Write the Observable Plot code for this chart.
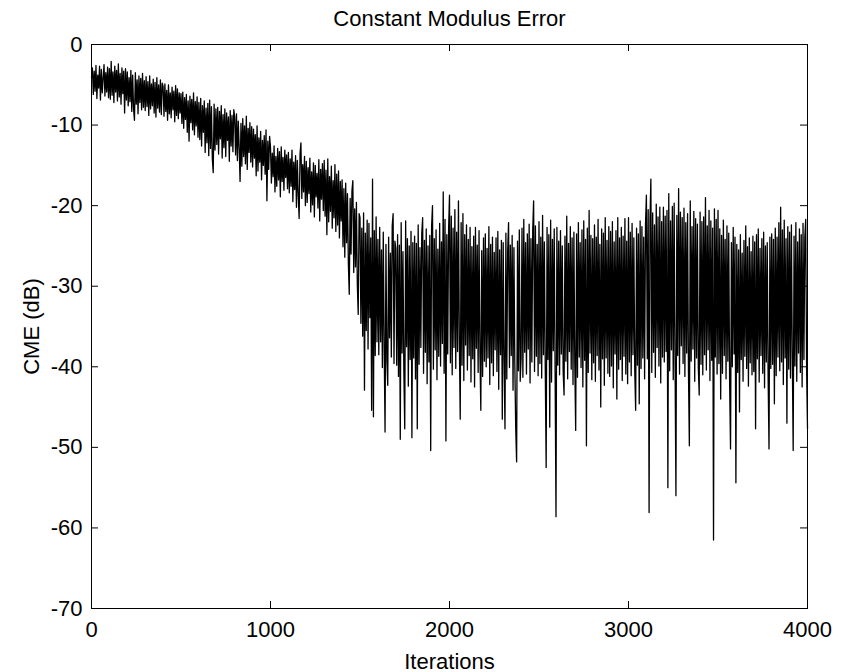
<!DOCTYPE html>
<html><head><meta charset="utf-8">
<script src="https://cdn.jsdelivr.net/npm/d3@7"></script>
<script src="https://cdn.jsdelivr.net/npm/@observablehq/plot@0.6"></script>
<style>body{margin:0;background:#fff}</style>
</head><body><div id="chart"></div>
<script>
const title = "Constant Modulus Error";
const xLabel = "Iterations";
const yLabel = "CME (dB)";
const xTicks = [0, 1000, 2000, 3000, 4000];
const yTicks = [0, -10, -20, -30, -40, -50, -60, -70];
const step = 5; // iterations between samples
const cme = [
-4.1,-2.9,-6.2,-3.3,-5.8,-2.6,-6.7,-3.8,-5.4,-2.7,-6.9,-3.1,-6.0,-4.2,-2.5,-6.4,-3.5,-5.9,-2.8,-6.6,
-3.0,-6.8,-2.1,-6.3,-3.4,-7.2,-2.7,-5.9,-3.2,-7.0,-2.4,-6.5,-3.6,-7.4,-2.9,-6.1,-3.3,-8.5,-3.0,-6.9,
-3.4,-7.6,-4.1,-7.1,-3.2,-8.3,-3.8,-8.0,-9.4,-3.5,-7.4,-4.4,-8.6,-3.9,-7.2,-4.2,-8.1,-3.6,-7.8,-4.5,
-8.2,-4.0,-7.7,-4.6,-8.8,-3.9,-8.0,-4.9,-7.6,-4.3,-8.5,-4.7,-9.0,-4.1,-7.9,-5.0,-8.4,-4.4,-8.7,-4.8,
-5.2,-8.9,-4.9,-8.3,-5.7,-9.4,-5.0,-8.6,-6.0,-9.1,-5.3,-8.1,-5.8,-9.6,-5.1,-8.8,-5.5,-9.2,-6.0,-8.5,
-6.1,-9.8,-5.9,-10.4,-6.6,-9.3,-6.2,-10.9,-7.0,-12.0,-6.4,-9.7,-6.8,-10.6,-6.0,-11.2,-7.1,-10.1,-6.5,-11.5,
-7.2,-11.8,-6.7,-12.6,-7.6,-10.9,-7.0,-13.4,-7.9,-12.2,-7.3,-13.8,-6.9,-12.9,-7.7,-14.2,-15.9,-7.4,-13.1,-8.0,
-12.4,-7.8,-13.6,-8.3,-11.7,-7.6,-14.1,-8.7,-12.8,-8.0,-13.9,-8.5,-11.9,-9.0,-14.5,-8.2,-12.6,-8.8,-13.3,-8.1,
-9.0,-13.7,-8.6,-14.4,-9.5,-12.8,-17.0,-9.8,-15.1,-9.2,-13.9,-10.1,-14.8,-8.9,-15.5,-10.4,-13.4,-9.7,-14.6,-10.2,
-15.2,-10.5,-14.1,-11.2,-16.3,-10.1,-15.7,-11.6,-14.6,-10.8,-16.8,-11.9,-15.0,-11.3,-16.1,-10.6,-19.4,-12.0,-15.5,-11.4,
-12.8,-17.2,-13.5,-16.4,-12.6,-18.3,-13.9,-17.6,-12.9,-16.8,-13.3,-18.9,-12.7,-17.0,-14.0,-18.1,-13.1,-16.5,-13.7,-17.9,
-13.4,-18.4,-14.2,-17.6,-13.1,-19.5,-14.6,-18.0,-13.8,-20.2,-14.4,-18.7,-21.6,-13.6,-12.2,-19.1,-14.9,-18.3,-13.9,-20.0,
-14.5,-19.6,-15.3,-18.5,-14.1,-20.8,-15.8,-19.9,-14.7,-21.4,-15.0,-18.9,-16.0,-20.3,-14.3,-21.9,-15.5,-19.2,-14.8,-20.6,
-14.4,-21.3,-15.6,-23.6,-14.2,-22.0,-16.4,-20.7,-15.1,-22.8,-16.9,-21.5,-14.9,-23.2,-16.1,-22.4,-15.7,-24.0,-17.0,-21.9,
-16.8,-25.1,-17.9,-26.4,-17.2,-24.6,-18.5,-27.2,-31.0,-19.1,-26.0,-18.2,-16.9,-28.3,-20.4,-27.6,-19.6,-29.8,-33.5,-21.0,
-21.5,-34.6,-22.8,-36.2,-20.9,-42.9,-23.4,-35.5,-21.8,-37.8,-22.2,-33.9,-24.0,-45.4,-16.7,-46.2,-23.1,-38.6,-21.4,-36.9,
-24.2,-38.5,-22.7,-36.9,-25.5,-40.1,-23.3,-37.4,-48.1,-24.8,-39.2,-42.3,-23.9,-36.4,-25.9,-38.8,-22.5,-21.0,-39.6,-24.4,
-25.3,-39.8,-23.6,-41.2,-24.9,-49.0,-22.1,-38.3,-25.7,-40.6,-47.7,-21.9,-37.5,-24.1,-42.4,-25.0,-39.1,-23.2,-48.8,-24.6,
-38.9,-23.8,-41.5,-24.7,-47.7,-22.4,-39.7,-25.2,-37.6,-23.5,-21.5,-40.8,-24.3,-38.2,-22.9,-42.1,-25.0,-39.4,-23.7,-50.4,
-22.6,-20.0,-40.3,-24.1,-37.9,-23.0,-41.6,-25.4,-38.7,-22.2,-39.9,-24.5,-37.1,-18.3,-40.8,-21.7,-49.2,-23.6,-38.4,-22.9,
-18.7,-39.5,-21.3,-41.0,-22.8,-37.6,-20.5,-40.2,-23.3,-38.1,-19.4,-36.8,-46.5,-22.1,-39.8,-21.0,-41.7,-23.6,-37.3,-22.4,
-40.4,-24.2,-38.6,-22.7,-41.9,-25.1,-39.0,-23.8,-42.5,-22.7,-37.7,-24.9,-40.7,-23.1,-38.3,-45.4,-25.6,-41.2,-24.0,-39.3,
-23.5,-40.0,-25.3,-38.9,-22.6,-42.2,-24.8,-39.5,-23.9,-41.1,-25.8,-37.9,-24.0,-40.6,-23.2,-42.8,-25.5,-38.5,-24.3,-46.5,
-24.6,-39.2,-47.7,-23.4,-41.5,-25.7,-22.1,-40.1,-24.9,-38.6,-23.7,-42.9,-25.2,-39.8,-47.7,-51.8,-24.4,-40.5,-23.0,-41.8,
-39.0,-22.8,-41.3,-21.7,-38.2,-24.6,-40.9,-23.5,-37.8,-22.3,-42.0,-24.1,-39.4,-23.0,-19.4,-40.6,-22.5,-38.7,-24.8,-41.1,
-22.0,-39.6,-23.9,-41.4,-21.2,-38.5,-24.5,-40.2,-52.5,-22.7,-39.1,-23.6,-47.5,-21.8,-41.9,-24.2,-38.0,-22.9,-40.7,-58.6,
-22.7,-39.8,-24.4,-41.0,-23.1,-38.4,-25.0,-40.6,-43.5,-23.8,-39.3,-21.3,-41.5,-24.7,-38.1,-22.6,-40.3,-24.0,-42.2,-23.3,
-39.7,-47.9,-23.5,-41.3,-22.1,-38.8,-24.6,-40.1,-23.0,-42.5,-21.9,-39.2,-24.2,-49.8,-22.8,-40.7,-20.6,-38.3,-23.7,-41.6,
-24.1,-39.5,-22.4,-41.8,-23.9,-38.6,-21.7,-40.4,-24.8,-45.0,-22.9,-39.0,-23.4,-42.3,-21.5,-38.9,-24.3,-40.8,-22.6,-41.2,
-23.2,-39.9,-22.0,-42.6,-24.5,-38.4,-23.1,-44.0,-21.5,-40.3,-24.0,-39.1,-22.7,-41.7,-23.8,-38.7,-21.6,-40.9,-24.4,-42.1,
-21.5,-39.4,-23.3,-41.1,-22.2,-38.5,-24.0,-40.6,-45.4,-22.8,-39.8,-23.5,-44.6,-21.9,-40.2,-22.6,-38.9,-23.9,-41.5,-22.3,
-18.7,-39.0,-20.5,-58.1,-21.8,-16.7,-40.7,-20.9,-38.2,-22.4,-41.3,-19.8,-37.6,-21.4,-39.9,-20.2,-42.0,-22.0,-38.8,-20.2,
-39.4,-21.3,-38.1,-20.6,-55.0,-18.5,-40.5,-21.9,-37.9,-20.1,-41.6,-19.7,-39.0,-56.0,-21.2,-38.6,-17.9,-40.9,-20.8,-37.4,
-21.5,-39.6,-20.3,-41.2,-22.1,-38.3,-21.0,-40.7,-49.8,-19.4,-39.3,-22.6,-37.8,-20.7,-41.8,-21.6,-38.9,-22.3,-40.1,-43.5,
-20.8,-39.7,-22.0,-41.0,-21.4,-38.5,-19.0,-40.4,-22.5,-37.9,-20.6,-41.7,-21.9,-39.2,-22.8,-61.5,-20.4,-38.8,-21.7,-40.9,
-20.6,-39.6,-22.9,-44.0,-23.7,-40.8,-21.8,-38.6,-24.2,-41.5,-22.5,-39.3,-23.4,-42.1,-50.2,-24.6,-40.0,-22.7,-38.4,-23.9,
-54.4,-24.8,-40.7,-25.5,-45.6,-23.6,-39.1,-25.9,-41.8,-24.3,-38.7,-22.5,-40.2,-25.1,-42.4,-24.0,-39.5,-25.7,-41.0,-23.8,
-40.6,-24.5,-47.7,-23.6,-39.0,-22.9,-41.9,-25.3,-38.6,-24.1,-40.8,-23.3,-42.6,-25.0,-39.4,-24.6,-41.3,-50.2,-23.9,-40.2,
-23.5,-39.7,-24.2,-44.6,-22.8,-41.1,-23.9,-38.8,-22.1,-40.5,-20.2,-39.4,-23.0,-42.2,-21.8,-38.9,-24.1,-47.0,-22.6,-40.3,
-23.3,-41.4,-22.4,-38.6,-50.4,-23.8,-39.9,-22.1,-41.8,-24.5,-38.3,-22.9,-40.7,-23.6,-42.5,-22.2,-39.1,-24.0,-21.7,-40.4,
-47.7
];

const data = cme.map((v, i) => ({iter: i * step, cme: v}));

const W = 850, H = 672, mt = 44, mb = 64, ml = 91, mr = 43;
const iw = W - ml - mr, ih = H - mt - mb;
const tk = 7;
const font = "'Liberation Sans', Arial, Helvetica, sans-serif";

const chart = Plot.plot({
  width: W, height: H,
  marginTop: mt, marginBottom: mb, marginLeft: ml, marginRight: mr,
  style: {fontFamily: font, fontSize: "22px", background: "white", color: "black", overflow: "visible"},
  x: {domain: [0, 4000], ticks: xTicks, label: xLabel},
  y: {domain: [-70, 0], ticks: yTicks, label: yLabel},
  marks: [
    Plot.lineY(data, {x: "iter", y: "cme", stroke: "black", strokeWidth: 1.3}),
    Plot.frame({stroke: "black", strokeWidth: 1}),
    Plot.tickX(xTicks, {x: d => d, insetTop: ih - tk, stroke: "black"}),
    Plot.tickX(xTicks, {x: d => d, insetBottom: ih - tk, stroke: "black"}),
    Plot.tickY(yTicks, {y: d => d, insetRight: iw - tk, stroke: "black"}),
    Plot.tickY(yTicks, {y: d => d, insetLeft: iw - tk, stroke: "black"}),
    Plot.axisX({ticks: xTicks, tickSize: 0, tickPadding: 13, tickFormat: d => String(d), fontSize: 22,
      label: xLabel, labelAnchor: "center", labelOffset: 60, labelArrow: "none"}),
    Plot.axisY({ticks: yTicks, tickSize: 0, tickPadding: 9, tickFormat: d => String(d), fontSize: 22,
      label: yLabel, labelAnchor: "center", labelOffset: 68, labelArrow: "none"}),
    Plot.text([title], {frameAnchor: "top", lineAnchor: "middle", dy: -26, fontSize: 22, fill: "black"})
  ]
});
document.getElementById("chart").appendChild(chart);
</script>
</body></html>
